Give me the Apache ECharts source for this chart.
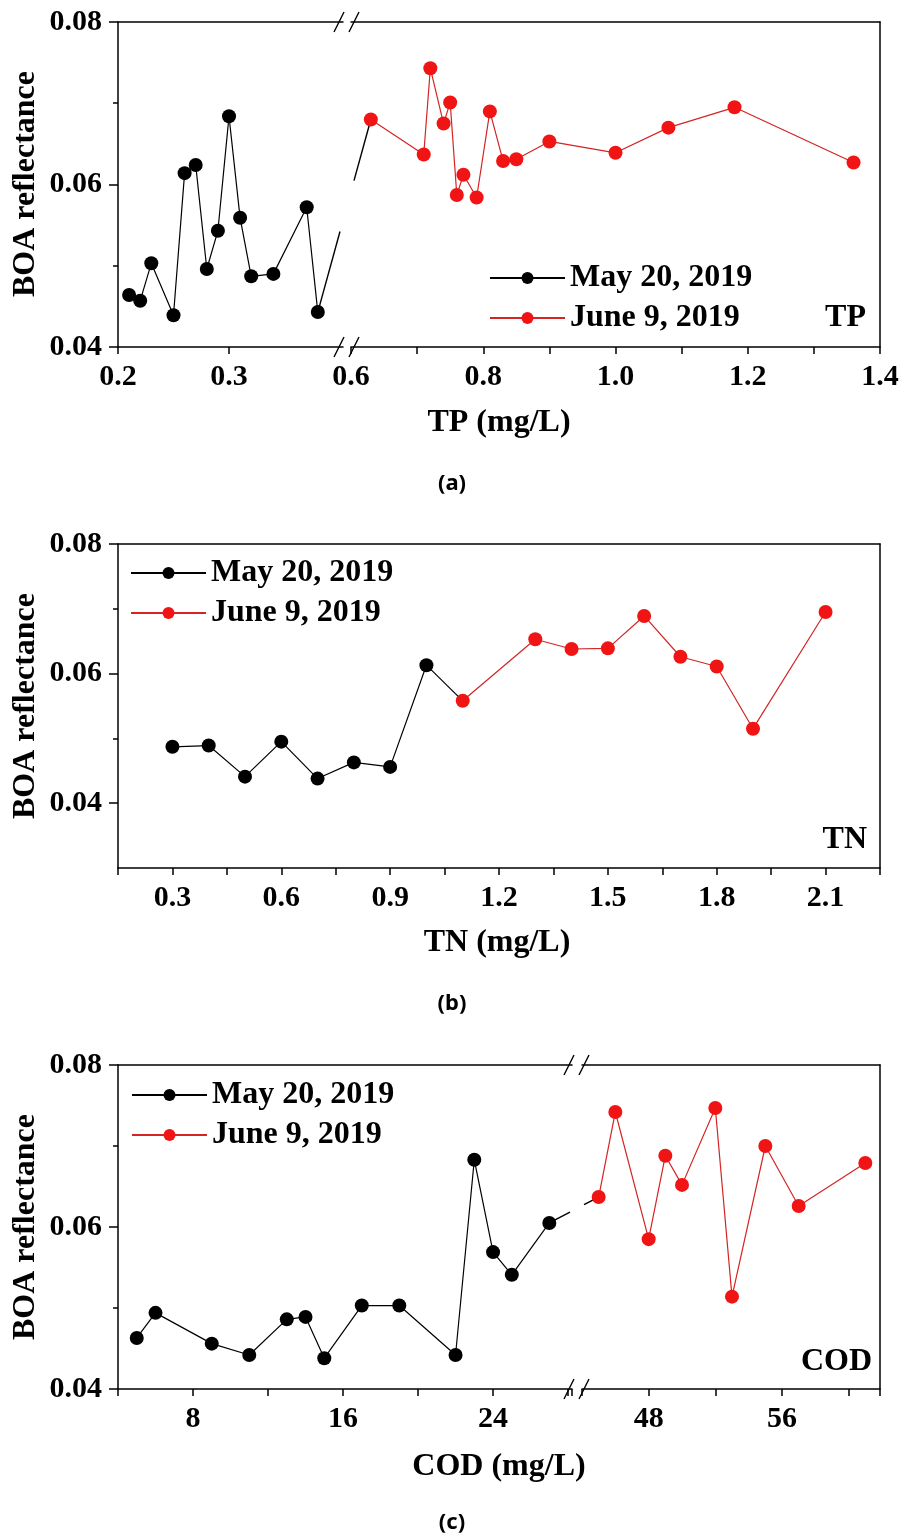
<!DOCTYPE html>
<html>
<head>
<meta charset="utf-8">
<script src="https://cdn.jsdelivr.net/npm/echarts@6.0.0/dist/echarts.min.js"></script>
<style>
html, body { margin: 0; padding: 0; background: #fff; }
#chart { width: 904px; height: 1538px; }
</style>
</head>
<body>
<div id="chart"></div>
<script>
// values
var MAY = 'May 20, 2019';
var JUN = 'June 9, 2019';

// (a) TP
var tpMayX = [0.21, 0.22, 0.23, 0.25, 0.26, 0.27, 0.28, 0.29, 0.30, 0.31, 0.32, 0.34, 0.37, 0.38];
var tpMayY = [0.0464, 0.0457, 0.0503, 0.0439, 0.0614, 0.0624, 0.0496, 0.0543, 0.0684, 0.0559, 0.0487, 0.0490, 0.0572, 0.0443];
var tpJunX = [0.63, 0.71, 0.72, 0.74, 0.75, 0.76, 0.77, 0.79, 0.81, 0.83, 0.85, 0.90, 1.00, 1.08, 1.18, 1.36];
var tpJunY = [0.0680, 0.0637, 0.0743, 0.0675, 0.0701, 0.0587, 0.0612, 0.0584, 0.0690, 0.0629, 0.0631, 0.0653, 0.0639, 0.0670, 0.0695, 0.0627];

// (b) TN
var tnMayX = [0.3, 0.4, 0.5, 0.6, 0.7, 0.8, 0.9, 1.0];
var tnMayY = [0.0487, 0.0489, 0.0441, 0.0495, 0.0438, 0.0463, 0.0456, 0.0613];
var tnJunX = [1.1, 1.3, 1.4, 1.5, 1.6, 1.7, 1.8, 1.9, 2.1];
var tnJunY = [0.0558, 0.0653, 0.0638, 0.0639, 0.0689, 0.0626, 0.0611, 0.0515, 0.0695];

// (c) COD
var codMayX = [5, 6, 9, 11, 13, 14, 15, 17, 19, 22, 23, 24, 25, 27];
var codMayY = [0.0463, 0.0494, 0.0456, 0.0442, 0.0486, 0.0489, 0.0438, 0.0503, 0.0503, 0.0442, 0.0683, 0.0569, 0.0541, 0.0605];
var codJunX = [45, 46, 48, 49, 50, 52, 53, 55, 57, 61];
var codJunY = [0.0637, 0.0742, 0.0585, 0.0688, 0.0652, 0.0747, 0.0514, 0.0700, 0.0626, 0.0679];

// tick labels
var tpLabelsLeft = [0.2, 0.3];
var tpLabelsRight = [0.6, 0.8, 1.0, 1.2, 1.4];
var tnLabels = [0.3, 0.6, 0.9, 1.2, 1.5, 1.8, 2.1];
var codLabelsLeft = [8, 16, 24];
var codLabelsRight = [48, 56];
var yLabels = [0.04, 0.06, 0.08];
var yMinorTicks = [0.05, 0.07];

var SERIF = "'Liberation Serif', 'Times New Roman', serif";
var SANS = "'Noto Sans', sans-serif";
var DOT_RED = '#f01414';
var LINE_RED = '#d42424';

function pairs(xs, ys) {
    var out = [];
    for (var i = 0; i < xs.length; i++) out.push([xs[i], ys[i]]);
    return out;
}
function fmt(d) {
    return function (v) { return Number(v).toFixed(d); };
}

// grid boxes (a left, a right, b, c left, c right)
var grids = [
    {left: 118, top: 22, width: 225, height: 325},
    {left: 351, top: 22, width: 529, height: 325},
    {left: 118, top: 544, width: 762, height: 324},
    {left: 118, top: 1065, width: 454, height: 324},
    {left: 582, top: 1065, width: 298, height: 324}
];
grids.forEach(function (g) { g.containLabel = false; g.outerBoundsMode = 'none'; });

var axisLine = {show: true, onZero: false, lineStyle: {color: '#000', width: 1.5}};
var labelStyle = {color: '#000', fontFamily: SERIF, fontWeight: 'bold', fontSize: 30};

function xBottom(gi, min, max, labels, d, tick) {
    var ax = {
        type: 'value', gridIndex: gi, position: 'bottom', min: min, max: max,
        axisLine: axisLine, splitLine: {show: false},
        axisTick: {show: true, length: 7, lineStyle: {color: '#000', width: 1.5}},
        axisLabel: Object.assign({customValues: labels, margin: 15, formatter: fmt(d)}, labelStyle)
    };
    if (tick.values) ax.axisTick.customValues = tick.values;
    else ax.interval = tick.interval;
    return ax;
}
function xTop(gi, min, max) {
    return {type: 'value', gridIndex: gi, position: 'top', min: min, max: max,
        axisLine: axisLine, axisTick: {show: false}, axisLabel: {show: false}, splitLine: {show: false}};
}
function yLeft(gi, min, max) {
    return {type: 'value', gridIndex: gi, position: 'left', min: min, max: max,
        axisLine: axisLine, splitLine: {show: false},
        axisTick: {show: true, length: 9, customValues: yLabels, lineStyle: {color: '#000', width: 1.5}},
        axisLabel: Object.assign({customValues: yLabels, margin: 16, formatter: fmt(2)}, labelStyle)};
}
function yMinor(gi, min, max) {
    return {type: 'value', gridIndex: gi, position: 'left', min: min, max: max,
        axisLine: {show: false}, splitLine: {show: false}, axisLabel: {show: false},
        axisTick: {show: true, length: 5, customValues: yMinorTicks, lineStyle: {color: '#000', width: 1.5}}};
}
function yRight(gi, min, max) {
    return {type: 'value', gridIndex: gi, position: 'right', min: min, max: max,
        axisLine: axisLine, axisTick: {show: false}, axisLabel: {show: false}, splitLine: {show: false}};
}

function dots(name, xi, yi, data, dot, line) {
    return {
        name: name, type: 'line', xAxisIndex: xi, yAxisIndex: yi, data: data,
        symbol: 'circle', symbolSize: 14, showAllSymbol: true,
        itemStyle: {color: dot}, lineStyle: {color: line, width: 1.2},
        emphasis: {disabled: true}
    };
}

function legendAt(left, top) {
    return {
        orient: 'vertical', left: left, top: top, padding: 0,
        itemWidth: 75, itemHeight: 15, itemGap: 6, selectedMode: false,
        data: [MAY, JUN],
        textStyle: {fontFamily: SERIF, fontWeight: 'bold', fontSize: 32, color: '#000', lineHeight: 34}
    };
}

var xAxes = [
    xBottom(0, 0.2, 0.4027, tpLabelsLeft, 1, {values: [0.2, 0.3]}),
    xTop(0, 0.2, 0.4027),
    xBottom(1, 0.6, 1.4, tpLabelsRight, 1, {interval: 0.1}),
    xTop(1, 0.6, 1.4),
    xBottom(2, 0.15, 2.25, tnLabels, 1, {interval: 0.15}),
    xTop(2, 0.15, 2.25),
    xBottom(3, 4, 28.21, codLabelsLeft, 0, {interval: 4}),
    xTop(3, 4, 28.21),
    xBottom(4, 44, 61.88, codLabelsRight, 0, {interval: 4}),
    xTop(4, 44, 61.88)
];
var yAxes = [
    yLeft(0, 0.04, 0.08), yMinor(0, 0.04, 0.08), yRight(1, 0.04, 0.08),
    yLeft(2, 0.03, 0.08), yMinor(2, 0.03, 0.08), yRight(2, 0.03, 0.08),
    yLeft(3, 0.04, 0.08), yMinor(3, 0.04, 0.08), yRight(4, 0.04, 0.08)
];

var tnMay = pairs(tnMayX, tnMayY);
var tnJun = pairs(tnJunX, tnJunY);

var series = [
    dots(MAY, 0, 0, pairs(tpMayX, tpMayY), '#000', '#000'),
    dots(JUN, 2, 2, pairs(tpJunX, tpJunY), DOT_RED, LINE_RED),
    {type: 'line', xAxisIndex: 4, yAxisIndex: 3, symbol: 'none', silent: true,
        data: [tnMay[tnMay.length - 1], tnJun[0]], lineStyle: {color: '#000', width: 1.2}},
    dots(MAY, 4, 3, tnMay, '#000', '#000'),
    dots(JUN, 4, 3, tnJun, DOT_RED, LINE_RED),
    dots(MAY, 6, 6, pairs(codMayX, codMayY), '#000', '#000'),
    dots(JUN, 8, 8, pairs(codJunX, codJunY), DOT_RED, LINE_RED)
];

function text(x, y, s, size, align, font, rot) {
    return {type: 'text', x: x, y: y, rotation: rot || 0, silent: true,
        style: {text: s, fill: '#000', font: 'bold ' + size + 'px ' + (font || SERIF),
            align: align || 'center', verticalAlign: 'middle'}};
}

var labels = [
    text(26, 184, 'BOA reflectance', 32, 'center', null, Math.PI / 2),
    text(26, 706, 'BOA reflectance', 32, 'center', null, Math.PI / 2),
    text(26, 1227, 'BOA reflectance', 32, 'center', null, Math.PI / 2),
    text(499, 423, 'TP (mg/L)', 32),
    text(497, 943, 'TN (mg/L)', 32),
    text(499, 1467, 'COD (mg/L)', 32),
    text(866, 318, 'TP', 32, 'right'),
    text(867, 840, 'TN', 32, 'right'),
    text(872, 1362, 'COD', 32, 'right'),
    text(452, 484, '(a)', 22, 'center', SANS),
    text(452, 1004, '(b)', 22, 'center', SANS),
    text(452, 1523, '(c)', 22, 'center', SANS)
];

var chart = echarts.init(document.getElementById('chart'));
var option = {
    backgroundColor: '#fff',
    animation: false,
    grid: grids,
    xAxis: xAxes,
    yAxis: yAxes,
    legend: [legendAt(489, 261), legendAt(130, 556), legendAt(131, 1078)],
    series: series,
    graphic: labels
};
chart.setOption(option);

// break marks and the black segment that runs across each break
function seg(x1, y1, x2, y2) {
    return {type: 'line', silent: true, shape: {x1: x1, y1: y1, x2: x2, y2: y2},
        style: {stroke: '#000', lineWidth: 1.4}};
}
function breakMarks(cx, y) {
    return [seg(cx - 13, y + 10, cx - 3, y - 10), seg(cx + 2, y + 10, cx + 12, y - 10)];
}
function across(p1, p2, gapL, gapR) {
    var k = (p2[1] - p1[1]) / (p2[0] - p1[0]);
    return [
        seg(p1[0], p1[1], gapL, p1[1] + k * (gapL - p1[0])),
        seg(gapR, p1[1] + k * (gapR - p1[0]), p2[0], p2[1])
    ];
}
var extra = [];
var cA = (grids[0].left + grids[0].width + grids[1].left) / 2;
var cC = (grids[3].left + grids[3].width + grids[4].left) / 2;
extra = extra.concat(breakMarks(cA, grids[0].top), breakMarks(cA, grids[0].top + grids[0].height));
extra = extra.concat(breakMarks(cC, grids[3].top), breakMarks(cC, grids[3].top + grids[3].height));

var nA = tpMayX.length - 1;
var a1 = chart.convertToPixel({xAxisIndex: 0, yAxisIndex: 0}, [tpMayX[nA], tpMayY[nA]]);
var a2 = chart.convertToPixel({xAxisIndex: 2, yAxisIndex: 2}, [tpJunX[0], tpJunY[0]]);
extra = extra.concat(across(a1, a2, cA - 7, cA + 7));
var nC = codMayX.length - 1;
var c1 = chart.convertToPixel({xAxisIndex: 6, yAxisIndex: 6}, [codMayX[nC], codMayY[nC]]);
var c2 = chart.convertToPixel({xAxisIndex: 8, yAxisIndex: 8}, [codJunX[0], codJunY[0]]);
extra = extra.concat(across(c1, c2, cC - 7, cC + 7));

chart.setOption({graphic: labels.concat(extra)});
</script>
</body>
</html>
